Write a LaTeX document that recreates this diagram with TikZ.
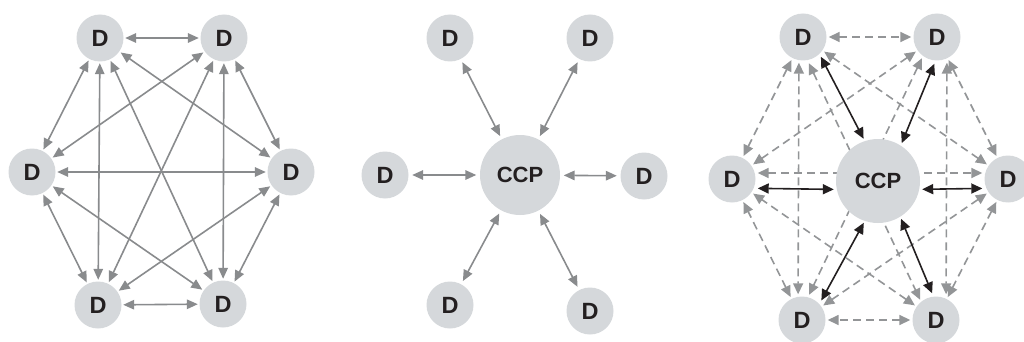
\documentclass[tikz,border=0pt]{standalone}
\usepackage{fontspec}
\setmainfont{Liberation Sans}
\usetikzlibrary{arrows.meta}
\definecolor{nodefill}{HTML}{D5D8DB}
\definecolor{txt}{HTML}{231F20}
\definecolor{linegray}{HTML}{898B8D}
\definecolor{dashgray}{HTML}{939597}
\begin{document}
\begin{tikzpicture}[x=1pt,y=-1pt,
  dnode/.style={circle,fill=nodefill,draw=none,minimum size=47pt,inner sep=0pt,
    text=txt,font=\fontsize{23.5}{23.5}\selectfont\bfseries},
  ccpnode/.style={circle,fill=nodefill,draw=none,inner sep=0pt,
    text=txt,font=\fontsize{22}{22}\selectfont\bfseries},
  gline/.style={draw=linegray,line width=1.6pt,
    {Triangle[length=11pt,width=9.5pt]}-{Triangle[length=11pt,width=9.5pt]},
    shorten <=1.5pt,shorten >=1.5pt},
  spoke/.style={gline,shorten <=3.5pt,shorten >=3.5pt},
  dline/.style={draw=dashgray,line width=1.6pt,dash pattern=on 8pt off 5pt,
    {Triangle[length=11pt,width=10pt]}-{Triangle[length=11pt,width=10pt]},
    shorten <=2pt,shorten >=2pt},
  bline/.style={draw=txt,line width=1.6pt,
    {Triangle[length=11pt,width=10pt]}-{Triangle[length=11pt,width=10pt]},
    shorten <=2pt,shorten >=2pt}]
\useasboundingbox (0,0) rectangle (1024,342);
\clip (0,0) rectangle (1024,342);

% ---------- panel 1: full mesh ----------
\node[dnode] (a1) at (100,38) {D};
\node[dnode] (a2) at (224,38) {D};
\node[dnode] (a3) at (291,172) {D};
\node[dnode] (a4) at (223,304) {D};
\node[dnode] (a5) at (98,305) {D};
\node[dnode] (a6) at (32,172) {D};
\foreach \p/\q in {a1/a2,a2/a3,a3/a4,a4/a5,a5/a6,a6/a1,
                   a1/a3,a1/a4,a1/a5,a2/a4,a2/a5,a2/a6,
                   a3/a5,a3/a6,a4/a6}
  \draw[gline] (\p) -- (\q);

% ---------- panel 2: central counterparty ----------
\node[ccpnode,minimum size=80pt] (bc) at (520,175) {CCP};
\node[dnode] (b1) at (450,38) {D};
\node[dnode] (b2) at (590,38) {D};
\node[dnode] (b3) at (644,176) {D};
\node[dnode] (b4) at (590,311) {D};
\node[dnode] (b5) at (450,305) {D};
\node[dnode] (b6) at (385,175) {D};
\foreach \q in {b1,b2,b3,b4,b5,b6}
  \draw[spoke] (bc) -- (\q);

% ---------- panel 3: CCP plus residual bilateral ----------
\node[dnode] (c1) at (803,37) {D};
\node[dnode] (c2) at (937,37) {D};
\node[dnode] (c3) at (1008,179) {D};
\node[dnode] (c4) at (936,320) {D};
\node[dnode] (c5) at (802,320) {D};
\node[dnode] (c6) at (732,179) {D};
\foreach \p/\q in {c1/c2,c2/c3,c3/c4,c4/c5,c5/c6,c6/c1,
                   c1/c3,c2/c6,c5/c3,c4/c6}
  \draw[dline] (\p) -- (\q);
\draw[dline,transform canvas={shift={(-4,0)}}] (c1) -- (c5);
\draw[dline,transform canvas={shift={(10,0)}}] (c2) -- (c4);
\draw[dline,transform canvas={shift={(0,-6)}}] (c6) -- (c3);
\draw[dline,transform canvas={shift={(-5,3)}}] (c1) -- (c4);
\draw[dline,transform canvas={shift={(-4,-2)}}] (c2) -- (c5);
\node[ccpnode,minimum size=84pt] (cc) at (878,181) {CCP};
\draw[bline,transform canvas={shift={(0,9)}}] (c6) -- (cc);
\draw[bline,transform canvas={shift={(0,9)}}] (cc) -- (c3);
\draw[bline,transform canvas={shift={(6,-3)}}] (c1) -- (cc);
\draw[bline,transform canvas={shift={(6,-3)}}] (cc) -- (c4);
\draw[bline,transform canvas={shift={(7,3)}}] (c2) -- (cc);
\draw[bline,transform canvas={shift={(7,3)}}] (cc) -- (c5);
\end{tikzpicture}
\end{document}
